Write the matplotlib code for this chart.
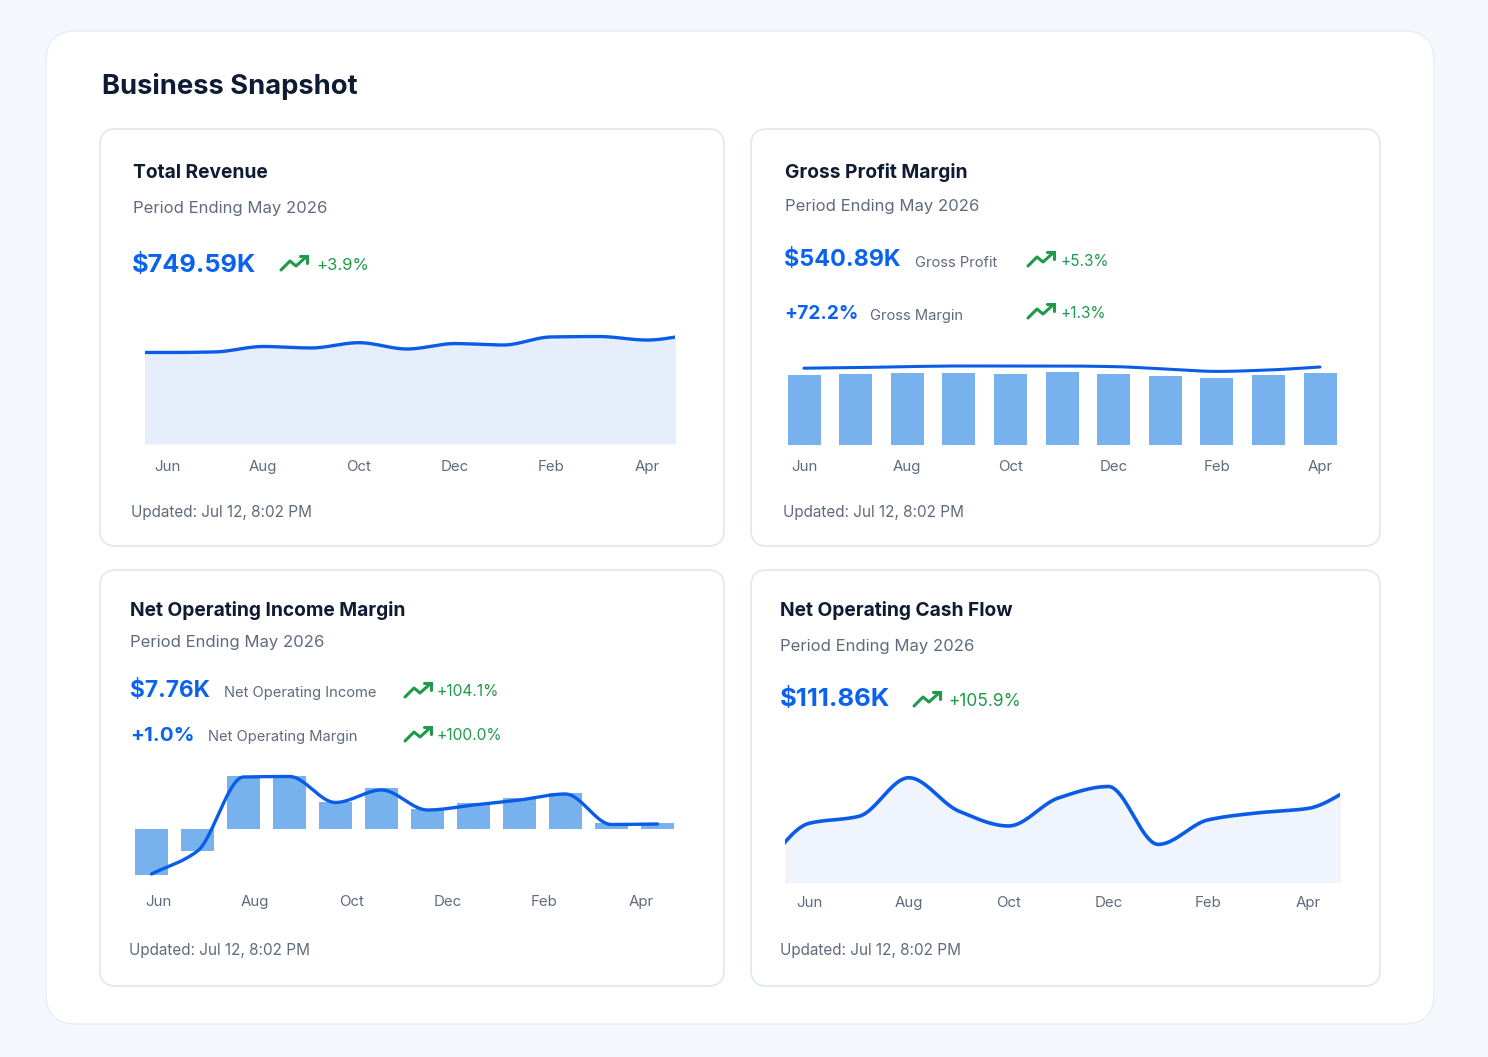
import numpy as np
import matplotlib
matplotlib.use("Agg")
import matplotlib.pyplot as plt
from matplotlib.patches import FancyBboxPatch

# ---------------- data ----------------
tick_labels = ['Jun', 'Aug', 'Oct', 'Dec', 'Feb', 'Apr']

# 13 months May'25 .. May'26 (Jun = index 0)
months13 = ['May', 'Jun', 'Jul', 'Aug', 'Sep', 'Oct', 'Nov', 'Dec', 'Jan', 'Feb', 'Mar', 'Apr', 'May']
revenue_k = [623, 623, 627, 664, 654, 690, 647, 684, 674, 729, 732, 708, 749.59]
cash_flow_k = [12, 68, 76, 120, 82, 65, 97, 110, 44, 72, 80, 85, 111.86]

# 11 months Jun .. Apr
months11 = ['Jun', 'Jul', 'Aug', 'Sep', 'Oct', 'Nov', 'Dec', 'Jan', 'Feb', 'Mar', 'Apr']
gross_profit_k = [525, 532, 540, 542, 532, 547, 532, 520, 500, 525, 540.89]
gross_margin_pct = [71.6, 71.9, 72.4, 72.7, 72.7, 72.7, 72.4, 71.2, 70.0, 70.7, 72.2]

# 12 months Jun .. May
months12 = ['Jun', 'Jul', 'Aug', 'Sep', 'Oct', 'Nov', 'Dec', 'Jan', 'Feb', 'Mar', 'Apr', 'May']
noi_k = [-59.5, -28.5, 68.4, 68.9, 35.2, 52.5, 25.4, 34.0, 39.6, 46.0, 7.6, 7.76]
noi_margin_pct = [-9.0, -4.4, 10.4, 10.5, 5.3, 7.8, 3.8, 4.8, 5.8, 7.0, 0.9, 1.0]

# ---------------- style ----------------
FONT = ['Inter', 'Lato', 'DejaVu Sans']
plt.rcParams['font.family'] = FONT
BG = '#f4f7fc'
NAVY = '#0f1b33'
GRAY = '#5f6b7d'
BLUE = '#0b62ee'
LINE = '#0a5ce6'
GREEN = '#1f9a4a'
BAR = '#78b2ee'
BORDER = '#e1e7f0'

W, H = 1488, 1057
fig = plt.figure(figsize=(W / 100, H / 100), dpi=100)
fig.patch.set_facecolor(BG)
bg = fig.add_axes([0, 0, 1, 1])
bg.set_xlim(0, W)
bg.set_ylim(H, 0)
bg.axis('off')


def rect(x0, y0, x1, y1):
    return [x0 / W, 1 - y1 / H, (x1 - x0) / W, (y1 - y0) / H]


def card(x0, y0, x1, y1, r, ec, lw, fc='white'):
    p = FancyBboxPatch((x0, y0), x1 - x0, y1 - y0,
                       boxstyle=f"round,pad=0,rounding_size={r}",
                       fc=fc, ec=ec, lw=lw)
    bg.add_patch(p)


def txt(x, y, s, size, color, weight='normal'):
    bg.text(x, y + 2, s, fontsize=size, color=color, fontweight=weight,
            va='center', ha='left')


def trend(x, y):
    # x,y : left-bottom of icon in pixels
    xs = [x, x + 9, x + 15, x + 25]
    ys = [y, y - 9, y - 4, y - 13]
    bg.plot(xs, ys, color=GREEN, lw=2.2, solid_capstyle='round', solid_joinstyle='round')
    bg.plot([x + 19, x + 26, x + 26], [y - 14, y - 14, y - 7], color=GREEN, lw=2.2,
            solid_capstyle='round', solid_joinstyle='miter')


def monotone(x, y, n=40):
    x = np.asarray(x, float)
    y = np.asarray(y, float)
    h = np.diff(x)
    d = np.diff(y) / h
    m = np.zeros_like(y)
    for i in range(1, len(y) - 1):
        if d[i - 1] * d[i] <= 0:
            m[i] = 0
        else:
            m[i] = 2.0 / (1.0 / d[i - 1] + 1.0 / d[i])
    m[0] = d[0]
    m[-1] = d[-1]
    xs, ys = [], []
    for i in range(len(x) - 1):
        t = np.linspace(0, 1, n, endpoint=(i == len(x) - 2))
        h00 = 2 * t**3 - 3 * t**2 + 1
        h10 = t**3 - 2 * t**2 + t
        h01 = -2 * t**3 + 3 * t**2
        h11 = t**3 - t**2
        xs.append(x[i] + t * h[i])
        ys.append(h00 * y[i] + h10 * h[i] * m[i] + h01 * y[i + 1] + h11 * h[i] * m[i + 1])
    return np.concatenate(xs), np.concatenate(ys)


def style_axes(ax, ticks, pad):
    ax.patch.set_alpha(0)
    for s in ax.spines.values():
        s.set_visible(False)
    ax.set_yticks([])
    ax.set_xticks(ticks)
    ax.set_xticklabels(tick_labels)
    ax.tick_params(axis='x', length=0, pad=pad, labelsize=10.8, labelcolor=GRAY)


# ---------------- frame ----------------
card(46, 31, 1434, 1024, 30, '#e8edf5', 1.0)
txt(102, 85, 'Business Snapshot', 19.7, NAVY, 'bold')

card(100, 129, 724, 546, 16, BORDER, 1.2)
card(751, 129, 1380, 546, 16, BORDER, 1.2)
card(100, 570, 724, 986, 16, BORDER, 1.2)
card(751, 570, 1380, 986, 16, BORDER, 1.2)

TS = 13.8   # card title size
PS = 12     # period size
US = 11     # updated size

# ---------------- Total Revenue ----------------
txt(133, 171, 'Total Revenue', TS, NAVY, 'bold')
txt(133, 206, 'Period Ending May 2026', PS, GRAY)
txt(132, 263, '$749.59K', 18.3, BLUE, 'bold')
trend(281, 270)
txt(316, 264, '+3.9%', 12, GREEN)
txt(131, 511, 'Updated: Jul 12, 8:02 PM', US, GRAY)

ax1 = fig.add_axes(rect(145, 300, 675, 444))
x13 = np.arange(len(months13)) - 1
sx, sy = monotone(x13, revenue_k)
ax1.fill_between(sx, 0, sy, color='#e6eefc', lw=0)
ax1.plot(sx, sy, color=LINE, lw=2.4, solid_capstyle='round')
ax1.set_xlim((145 - 167) / 48, (675 - 167) / 48)
ax1.set_ylim(0, 144 * 6.81)
style_axes(ax1, [0, 2, 4, 6, 8, 10], 11.5)

# ---------------- Gross Profit Margin ----------------
txt(785, 171, 'Gross Profit Margin', TS, NAVY, 'bold')
txt(785, 204, 'Period Ending May 2026', PS, GRAY)
txt(784, 258, '$540.89K', 16.8, BLUE, 'bold')
txt(915, 261, 'Gross Profit', 10.6, GRAY)
trend(1028, 266)
txt(1060, 259, '+5.3%', 11, GREEN)
txt(784, 312, '+72.2%', 13.8, BLUE, 'bold')
txt(870, 314, 'Gross Margin', 10.6, GRAY)
trend(1028, 318)
txt(1060, 312, '+1.3%', 11, GREEN)
txt(783, 511, 'Updated: Jul 12, 8:02 PM', US, GRAY)

ax2 = fig.add_axes(rect(778, 300, 1347, 445))
x11 = np.arange(len(months11))
ax2.bar(x11, gross_profit_k, width=33 / 51.6, color=BAR, lw=0)
ax2.set_xlim((778 - 804) / 51.6, (1347 - 804) / 51.6)
ax2.set_ylim(0, 145 * 7.5)
style_axes(ax2, [0, 2, 4, 6, 8, 10], 11)
ax2b = ax2.twinx()
ax2b.patch.set_alpha(0)
for s in ax2b.spines.values():
    s.set_visible(False)
ax2b.set_yticks([])
mx, my = monotone(x11, gross_margin_pct)
ax2b.plot(mx, my, color=LINE, lw=2.2, solid_capstyle='round')
ax2b.set_ylim(33.2, 105.7)

# ---------------- Net Operating Income Margin ----------------
txt(130, 609, 'Net Operating Income Margin', TS, NAVY, 'bold')
txt(130, 641, 'Period Ending May 2026', PS, GRAY)
txt(130, 689, '$7.76K', 16.3, BLUE, 'bold')
txt(224, 691, 'Net Operating Income', 10.6, GRAY)
trend(405, 697)
txt(437, 690, '+104.1%', 11.2, GREEN)
txt(130, 734, '+1.0%', 14.8, BLUE, 'bold')
txt(208, 735, 'Net Operating Margin', 10.6, GRAY)
trend(405, 741)
txt(437, 734, '+100.0%', 11.2, GREEN)
txt(129, 948, 'Updated: Jul 12, 8:02 PM', US, GRAY)

ax3 = fig.add_axes(rect(120, 765, 690, 880))
x12 = np.arange(len(months12))
ax3.bar(x12, noi_k, width=33.5 / 46, color=BAR, lw=0)
ax3.set_xlim((120 - 151.5) / 46, (690 - 151.5) / 46)
ax3.set_ylim(-51 * 1.29, 64 * 1.29)
style_axes(ax3, [0.14 + 2.1 * k for k in range(6)], 10.5)
ax3b = ax3.twinx()
ax3b.patch.set_alpha(0)
for s in ax3b.spines.values():
    s.set_visible(False)
ax3b.set_yticks([])
nx, ny = monotone(x12, noi_margin_pct)
ax3b.plot(nx, ny, color=LINE, lw=2.4, solid_capstyle='round')
ax3b.set_ylim(-51 / 5, 64 / 5)

# ---------------- Net Operating Cash Flow ----------------
txt(780, 609, 'Net Operating Cash Flow', TS, NAVY, 'bold')
txt(780, 644, 'Period Ending May 2026', PS, GRAY)
txt(780, 698, '$111.86K', 18.5, BLUE, 'bold')
trend(914, 706)
txt(948, 699, '+105.9%', 12.5, GREEN)
txt(780, 948, 'Updated: Jul 12, 8:02 PM', US, GRAY)

ax4 = fig.add_axes(rect(785, 760, 1340, 883))
cx, cy = monotone(x13, cash_flow_k)
ax4.fill_between(cx, 0, cy, color='#eff4fd', lw=0)
ax4.plot(cx, cy, color=LINE, lw=2.6, solid_capstyle='round')
ax4.set_xlim((785 - 809) / 49.9, (1340 - 809) / 49.9)
ax4.set_ylim(0, 123 * 1.14)
style_axes(ax4, [0, 2, 4, 6, 8, 10], 9.5)

fig.savefig('out.png', dpi=100, facecolor=BG)
